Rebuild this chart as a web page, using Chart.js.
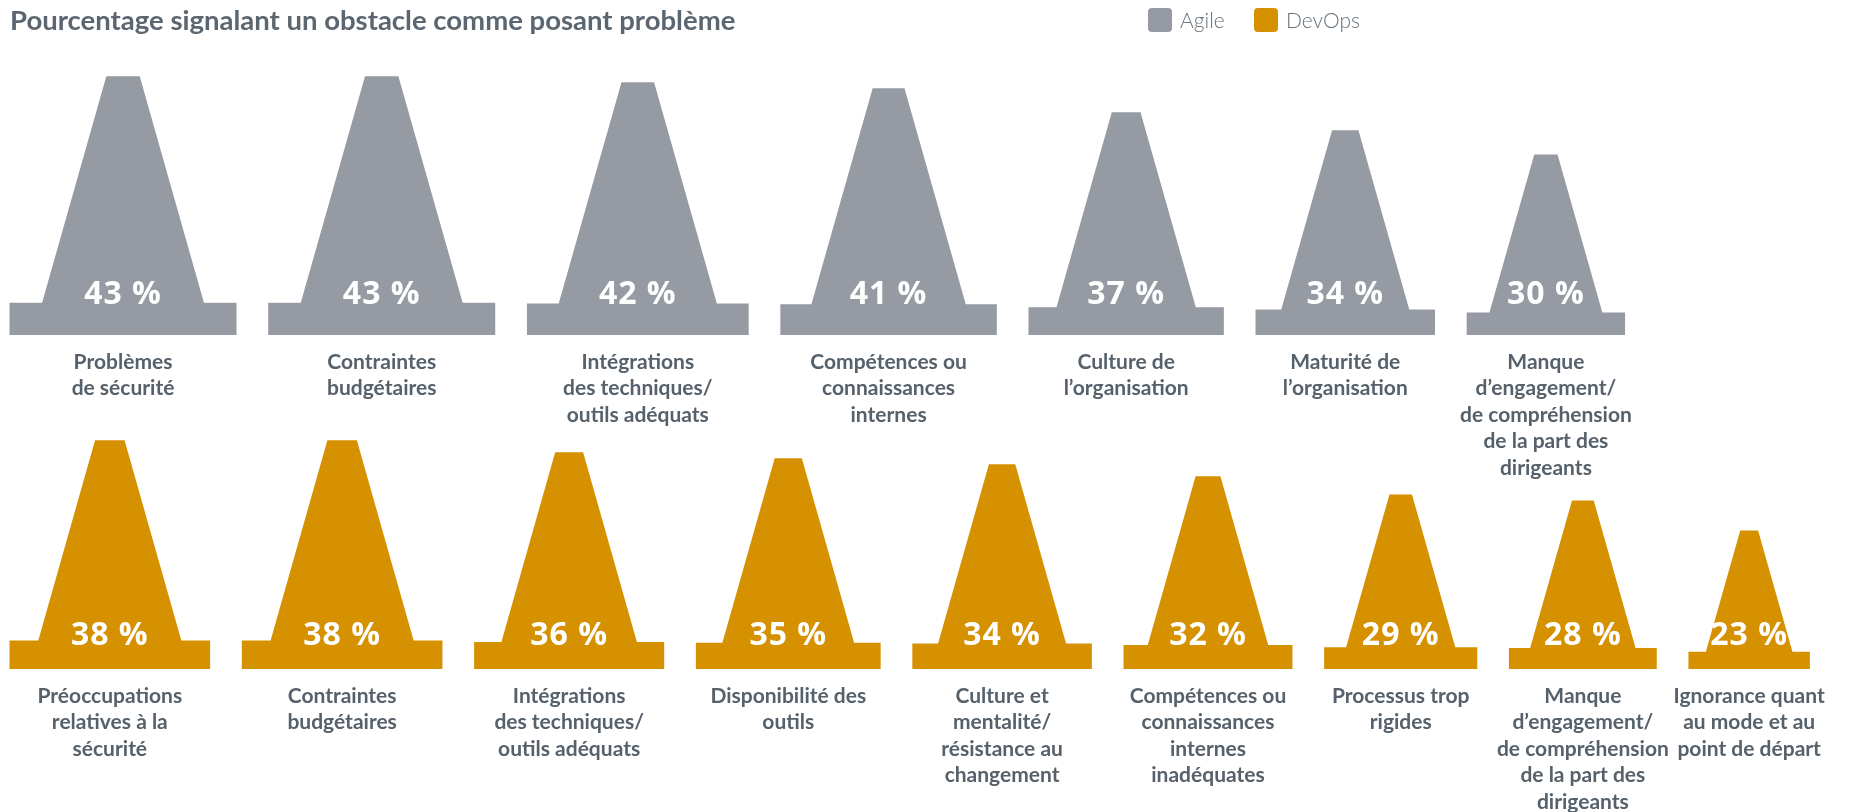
<!DOCTYPE html>
<html><head><meta charset="utf-8">
<script src="https://cdn.jsdelivr.net/npm/chart.js@4.4.1/dist/chart.umd.min.js"></script>
<style>
html,body{margin:0;padding:0;background:#fff;}
#wrap{position:relative;width:1858px;height:812px;overflow:hidden;background:#fff;}
.c{position:absolute;left:0;top:0;width:1858px;height:812px;}
</style></head><body>
<div id="wrap">
  <div class="c"><canvas id="agile"></canvas></div>
  <div class="c"><canvas id="devops"></canvas></div>
</div>
<script>
// ---------- data ----------
const chartTitle = 'Pourcentage signalant un obstacle comme posant problème';
const seriesNames = ['Agile', 'DevOps'];
const seriesColors = ['#959aa3', '#d69100'];

const agileCategories = [
  ['Problèmes', 'de sécurité'],
  ['Contraintes', 'budgétaires'],
  ['Intégrations', 'des techniques/', 'outils adéquats'],
  ['Compétences ou', 'connaissances', 'internes'],
  ['Culture de', 'l’organisation'],
  ['Maturité de', 'l’organisation'],
  ['Manque', 'd’engagement/', 'de compréhension', 'de la part des', 'dirigeants']
];
const agileValues = [43, 43, 42, 41, 37, 34, 30];

const devopsCategories = [
  ['Préoccupations', 'relatives à la', 'sécurité'],
  ['Contraintes', 'budgétaires'],
  ['Intégrations', 'des techniques/', 'outils adéquats'],
  ['Disponibilité des', 'outils'],
  ['Culture et', 'mentalité/', 'résistance au', 'changement'],
  ['Compétences ou', 'connaissances', 'internes', 'inadéquates'],
  ['Processus trop', 'rigides'],
  ['Manque', 'd’engagement/', 'de compréhension', 'de la part des', 'dirigeants'],
  ['Ignorance quant', 'au mode et au', 'point de départ']
];
const devopsValues = [38, 38, 36, 35, 34, 32, 29, 28, 23];

// ---------- cone shape (fractions of the value) ----------
const GAP = 6;            // gap between cones, in x units
const BASE_FRAC = 0.125;  // base plate height
const BOTTOM_FRAC = 0.713;// trapezoid bottom width
const TOP_FRAC = 0.147;   // trapezoid top width
const X_MAX = 345;
const Y_MAX = 50;

function coneCenters(values) {
  let s = 0;
  return values.map(v => { const c = s + v / 2; s += v + GAP; return c; });
}

const labelColor = '#56616b';

const conePlugin = {
  id: 'cones',
  afterDatasetsDraw(chart, args, opts) {
    const {ctx} = chart;
    const x = chart.scales.x, y = chart.scales.y;
    chart.data.datasets.forEach(ds => {
      ds.data.forEach(pt => {
        const v = pt.y, cx = pt.x;
        const px = val => x.getPixelForValue(val);
        const y0 = y.getPixelForValue(0);
        const yb = y.getPixelForValue(v * BASE_FRAC);
        const yt = y.getPixelForValue(v);
        ctx.save();
        ctx.fillStyle = ds.backgroundColor;
        ctx.beginPath();
        ctx.moveTo(px(cx - v / 2), y0);
        ctx.lineTo(px(cx + v / 2), y0);
        ctx.lineTo(px(cx + v / 2), yb);
        ctx.lineTo(px(cx + v * BOTTOM_FRAC / 2), yb);
        ctx.lineTo(px(cx + v * TOP_FRAC / 2), yt);
        ctx.lineTo(px(cx - v * TOP_FRAC / 2), yt);
        ctx.lineTo(px(cx - v * BOTTOM_FRAC / 2), yb);
        ctx.lineTo(px(cx - v / 2), yb);
        ctx.closePath();
        ctx.fill();
        ctx.fillStyle = '#ffffff';
        ctx.font = 'bold 32px "Open Sans"';
        ctx.letterSpacing = '1px';
        ctx.textAlign = 'center';
        ctx.textBaseline = 'alphabetic';
        ctx.fillText(v + ' %', px(cx), y0 - opts.labelOffset);
        ctx.restore();
      });
    });
  }
};

const legendX = [1148, 1254];

const headerPlugin = {
  id: 'header',
  afterDraw(chart, args, opts) {
    if (!opts.show) return;
    const {ctx} = chart;
    ctx.save();
    ctx.fillStyle = '#5b6670';
    ctx.font = 'bold 27.5px Lato';
    ctx.textAlign = 'left';
    ctx.textBaseline = 'alphabetic';
    ctx.fillText(chartTitle, 10, 30);
    // legend
    ctx.font = '300 21px Lato';
    seriesNames.forEach((name, i) => {
      const lx = legendX[i];
      ctx.fillStyle = seriesColors[i];
      ctx.beginPath();
      ctx.roundRect(lx, 8, 24, 24, 4);
      ctx.fill();
      ctx.fillStyle = '#66717b';
      ctx.fillText(name, lx + 32, 28);
    });
    ctx.restore();
  }
};

function makeRow(id, idx, cats, vals, padTop, padBottom, axisH, labelOffset, showHeader) {
  const centers = coneCenters(vals);
  return new Chart(document.getElementById(id), {
    type: 'scatter',
    data: {
      datasets: [{
        label: seriesNames[idx],
        backgroundColor: seriesColors[idx],
        data: vals.map((v, i) => ({x: centers[i], y: v})),
        pointRadius: 0,
        pointHoverRadius: 0
      }]
    },
    options: {
      responsive: true,
      maintainAspectRatio: false,
      animation: false,
      layout: {padding: {left: 9.5, right: 27, top: padTop, bottom: padBottom}},
      plugins: {
        legend: {display: false},
        title: {display: false},
        tooltip: {enabled: false},
        cones: {labelOffset: labelOffset},
        header: {show: showHeader}
      },
      scales: {
        x: {
          type: 'linear', min: 0, max: X_MAX,
          grid: {display: false, drawTicks: false},
          border: {display: false},
          afterBuildTicks: ax => { ax.ticks = centers.map(c => ({value: c})); },
          afterFit: ax => { ax.height = axisH; },
          ticks: {
            autoSkip: false, maxRotation: 0, minRotation: 0, padding: 14,
            color: labelColor,
            font: {family: 'Lato', size: 21, weight: 'bold', lineHeight: 1.26},
            callback: (v, i) => cats[i]
          }
        },
        y: {type: 'linear', display: false, min: 0, max: Y_MAX}
      }
    },
    plugins: [conePlugin, headerPlugin]
  });
}

makeRow('agile', 0, agileCategories, agileValues, 34, 332, 145, 31, true);
makeRow('devops', 1, devopsCategories, devopsValues, 368, 0, 143, 24, false);
</script>
</body></html>
